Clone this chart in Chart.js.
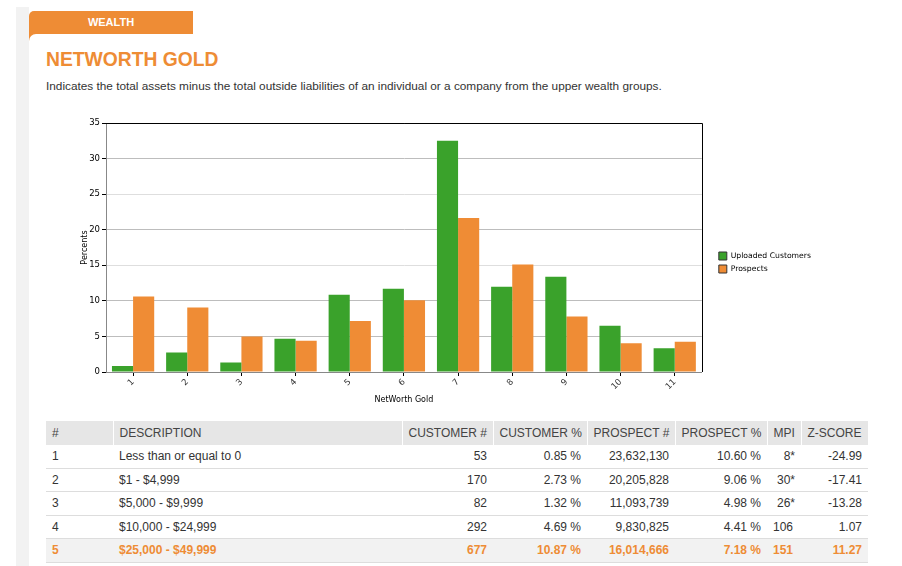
<!DOCTYPE html>
<html>
<head>
<meta charset="utf-8">
<script src="https://cdn.jsdelivr.net/npm/chart.js@4.4.1/dist/chart.umd.min.js"></script>
<style>
    body {
        margin: 0;
        background: #fff;
        font-family: "Liberation Sans", Arial, sans-serif;
        width: 902px;
        height: 566px;
        overflow: hidden;
        position: relative;
    }
    /* striscia grigia a sinistra */
    .strip {
        position: absolute;
        left: 16px; top: 7px;
        width: 13px; height: 600px;
        background: #f2f2f2;
    }
    .tab {
        position: absolute;
        left: 29px; top: 11px;
        width: 164px; height: 30px;
        background: #ee8c35;
        border-top-left-radius: 5px;
        color: #fff;
        font-weight: bold;
        font-size: 11px;
        text-align: center;
        line-height: 22px;
    }
    .card {
        position: absolute;
        left: 29px; top: 34px;
        width: 873px; height: 540px;
        background: #fff;
        border-top-left-radius: 7px;
    }
    h1 {
        position: absolute;
        left: 46px; top: 49px;
        margin: 0;
        font-size: 19.3px;
        font-weight: bold;
        color: #ee8c35;
    }
    .desc {
        position: absolute;
        left: 46px; top: 79px;
        margin: 0;
        font-size: 11.8px;
        color: #333;
    }
    #box {
        position: absolute;
        left: 60px; top: 112px;
        width: 760px; height: 300px;
    }
    table {
        position: absolute;
        left: 46px; top: 421px;
        width: 822px;
        border-collapse: collapse;
        table-layout: fixed;
        font-size: 12px;
        color: #333;
        white-space: nowrap;
    }
    th {
        background: #e6e6e6;
        font-weight: normal;
        color: #444;
        height: 24px;
        padding: 0 6px;
        border-right: 1px solid #fff;
        overflow: visible;
    }
    td {
        height: 22.5px;
        padding: 0 6px;
        border-bottom: 1px solid #ddd;
    }
    .l { text-align: left; }
    .r { text-align: right; }
    tr.hl td {
        background: #f2f2f2;
        color: #ee8c35;
        font-weight: bold;
    }
    .nostar { visibility: hidden; }
</style>
</head>
<body>
<div class="strip"></div>
<div class="tab">WEALTH</div>
<div class="card"></div>
<h1>NETWORTH GOLD</h1>
<p class="desc">Indicates the total assets minus the total outside liabilities of an individual or a company from the upper wealth groups.</p>

<div id="box"><canvas id="NetworthChart"></canvas></div>

<table id="tab">
    <colgroup>
        <col style="width:67px"><col style="width:289px"><col style="width:91px"><col style="width:94px">
        <col style="width:88px"><col style="width:92px"><col style="width:34px"><col style="width:67px">
    </colgroup>
    <thead>
        <tr>
            <th class="l">#</th><th class="l">DESCRIPTION</th><th class="r">CUSTOMER #</th><th class="r">CUSTOMER %</th>
            <th class="r">PROSPECT #</th><th class="r">PROSPECT %</th><th class="r">MPI</th><th class="r">Z-SCORE</th>
        </tr>
    </thead>
    <tbody></tbody>
</table>

<script>
    // dati del grafico
    var categorie = ["1","2","3","4","5","6","7","8","9","10","11"];
    var clienti   = [0.85, 2.73, 1.32, 4.69, 10.87, 11.7, 32.5, 12.0, 13.4, 6.5, 3.35];
    var prospetti = [10.60, 9.06, 4.98, 4.41, 7.18, 10.1, 21.65, 15.1, 7.8, 4.05, 4.25];
    var tickY     = [0, 5, 10, 15, 20, 25, 30, 35];

    // dati della tabella
    var descrizioni = ["Less than or equal to 0", "$1 - $4,999", "$5,000 - $9,999", "$10,000 - $24,999", "$25,000 - $49,999"];
    var clientiN    = ["53", "170", "82", "292", "677"];
    var clientiP    = ["0.85 %", "2.73 %", "1.32 %", "4.69 %", "10.87 %"];
    var prospettiN  = ["23,632,130", "20,205,828", "11,093,739", "9,830,825", "16,014,666"];
    var prospettiP  = ["10.60 %", "9.06 %", "4.98 %", "4.41 %", "7.18 %"];
    var mpi         = ["8*", "30*", "26*", "106", "151"];
    var zscore      = ["-24.99", "-17.41", "-13.28", "1.07", "11.27"];

    var body = document.querySelector("#tab tbody");
    for (var i = 0; i < descrizioni.length; i++) {
        var m = mpi[i].indexOf("*") >= 0 ? mpi[i] : mpi[i] + '<span class="nostar">*</span>';
        var tr = document.createElement("tr");
        if (i == 4) tr.className = "hl";
        tr.innerHTML = '<td>' + (i + 1) + '</td><td>' + descrizioni[i] + '</td><td class="r">' + clientiN[i] +
            '</td><td class="r">' + clientiP[i] + '</td><td class="r">' + prospettiN[i] + '</td><td class="r">' +
            prospettiP[i] + '</td><td class="r">' + m + '</td><td class="r">' + zscore[i] + '</td>';
        body.appendChild(tr);
    }

    var tickFont = { family: "DejaVu Sans", size: 8.5 };

    // bordo nero in alto e a destra + spostamento legenda
    var cornice = {
        id: 'cornice',
        afterLayout: function (chart) {
            var l = chart.legend;
            var dx = chart.chartArea.right + 12 - l.left;
            l.left += dx; l.right += dx;
            l.top -= 5; l.bottom -= 5;
        },
        afterDatasetsDraw: function (chart) {
            var a = chart.chartArea, ctx = chart.ctx;
            ctx.save();
            ctx.strokeStyle = '#000';
            ctx.lineWidth = 1;
            ctx.beginPath();
            ctx.moveTo(a.left, Math.round(a.top) + 0.5);
            ctx.lineTo(Math.round(a.right) + 0.5, Math.round(a.top) + 0.5);
            ctx.lineTo(Math.round(a.right) + 0.5, a.bottom);
            ctx.stroke();
            ctx.restore();
        }
    };

    new Chart("NetworthChart", {
        type: 'bar',
        data: {
            labels: categorie,
            datasets: [{
                label: 'Uploaded Customers',
                data: clienti,
                backgroundColor: '#3aa22b',
                borderWidth: 0
            }, {
                label: 'Prospects',
                data: prospetti,
                backgroundColor: '#ef8c35',
                borderWidth: 0
            }]
        },
        plugins: [cornice],
        options: {
            responsive: true,
            maintainAspectRatio: false,
            animation: false,
            layout: { padding: { left: 16, top: 11, right: 11, bottom: 0 } },
            datasets: { bar: { categoryPercentage: 0.78, barPercentage: 1.0 } },
            plugins: {
                tooltip: { enabled: false },
                legend: {
                    position: 'right',
                    labels: {
                        boxWidth: 8,
                        boxHeight: 8,
                        padding: 5,
                        color: '#000',
                        font: { family: "DejaVu Sans", size: 7.7 },
                        generateLabels: function (chart) {
                            return Chart.defaults.plugins.legend.labels.generateLabels(chart).map(function (it) {
                                it.strokeStyle = '#333';
                                it.lineWidth = 1;
                                return it;
                            });
                        }
                    }
                }
            },
            scales: {
                x: {
                    afterFit: function (s) { s.height = 40; },
                    grid: {
                        offset: false,
                        drawOnChartArea: false,
                        drawTicks: true,
                        tickLength: 4,
                        tickColor: '#000'
                    },
                    border: { color: '#888', width: 1 },
                    ticks: {
                        color: '#333',
                        font: tickFont,
                        minRotation: 45,
                        maxRotation: 45,
                        padding: 1
                    },
                    title: {
                        display: true,
                        text: 'NetWorth Gold',
                        color: '#000',
                        font: { family: "DejaVu Sans", size: 8 },
                        padding: { top: 0, bottom: 7 }
                    }
                },
                y: {
                    min: 0,
                    max: 35,
                    afterFit: function (s) { s.width = 30; },
                    afterBuildTicks: function (s) {
                        s.ticks = tickY.map(function (v) { return { value: v }; });
                    },
                    grid: {
                        color: function (c) {
                            var v = c.tick ? c.tick.value : 0;
                            if (v == 35) return '#000';
                            if (v == 15 || v == 25) return '#dedede';
                            return '#bdbdbd';
                        },
                        tickColor: '#000',
                        tickLength: 4
                    },
                    border: { color: '#888', width: 1 },
                    ticks: {
                        color: '#000',
                        font: tickFont,
                        padding: 2
                    },
                    title: {
                        display: true,
                        text: 'Percents',
                        color: '#000',
                        font: { family: "DejaVu Sans", size: 8 },
                        padding: { top: 4, bottom: 0 }
                    }
                }
            }
        }
    });
</script>
</body>
</html>
